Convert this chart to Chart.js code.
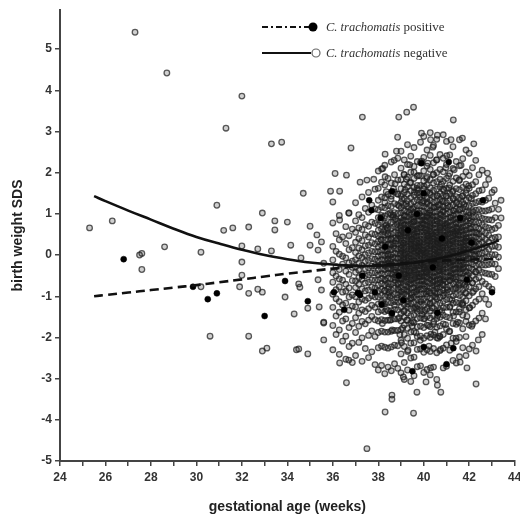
<!DOCTYPE html>
<html>
<head>
<meta charset="utf-8">
<title>Birth weight SDS by gestational age</title>
<script src="https://cdn.jsdelivr.net/npm/chart.js@4.4.1/dist/chart.umd.min.js"></script>
<style>
  html, body { margin: 0; padding: 0; background: #fff; }
  #wrap { width: 520px; height: 521px; }
</style>
</head>
<body>
<div id="wrap"><canvas id="scatter-chart" width="520" height="521"></canvas></div>
<script>
// Fitted curves
const curveWeeks = [25.5, 26, 27, 28, 29, 30, 31, 32, 33, 34, 35, 36, 37, 38, 39, 40, 41, 42, 43, 43.3];
const negativeFit = [1.43, 1.31, 1.08, 0.86, 0.64, 0.44, 0.28, 0.13, 0.0, -0.1, -0.18, -0.23, -0.26, -0.26, -0.22, -0.15, -0.04, 0.11, 0.29, 0.36];
const positiveFit = [-1.0, -0.97, -0.91, -0.85, -0.79, -0.73, -0.66, -0.59, -0.52, -0.45, -0.39, -0.33, -0.28, -0.24, -0.2, -0.16, -0.13, -0.11, -0.1, -0.1];

// C. trachomatis positive (filled dots)
const positiveWeeks = [26.8, 29.85, 30.5, 30.9, 33.0, 33.9, 34.9, 36.05, 36.5, 37.1, 37.2, 37.85, 38.15, 38.6, 39.5, 41.0, 41.3, 40.0, 43.0,
  39.9, 41.1, 38.6, 37.6, 37.7, 42.6, 40.0, 39.3, 40.4, 38.9, 41.6, 39.7, 40.8, 38.3, 41.9, 39.1, 40.6, 42.1, 37.3, 38.1];
const positiveSDS = [-0.1, -0.77, -1.07, -0.93, -1.48, -0.63, -1.12, -0.9, -1.33, -0.92, -0.97, -0.9, -1.2, -1.41, -2.82, -2.65, -2.26, -2.23, -0.9,
  2.23, 2.26, 1.55, 1.33, 1.09, 1.33, 1.5, 0.6, -0.3, -0.5, 0.9, 1.0, 0.4, 0.2, -0.6, -1.1, -1.4, 0.3, -0.5, 0.9];

// C. trachomatis negative, scattered points outside the main cloud
const outlierWeeks = [25.3, 26.3, 27.3, 28.7, 32.0, 31.3, 30.9, 31.2, 31.6, 32.3, 28.6, 27.5, 27.6, 27.6, 30.2, 32.0, 30.6, 32.3,
  31.9, 32.3, 32.0, 32.0, 30.2, 32.9, 34.7, 33.45, 34.0, 33.45, 35.0, 32.7, 33.3, 34.15, 32.7, 32.9, 33.9, 34.3, 32.9, 33.1,
  34.4, 34.9, 35.6, 35.6, 34.5, 33.3, 33.75, 37.3, 38.9, 39.25, 39.55, 41.3, 36.8, 38.3, 38.85, 35.9, 36.3, 36.1, 36.6, 36.0,
  37.2, 37.5, 37.8, 38.2, 38.7, 36.3, 36.7, 37.5, 38.3, 39.55, 38.6, 38.6, 39.7, 40.1, 40.6, 40.75, 42.3, 36.6, 41.9, 41.6,
  42.3, 42.4, 36.3, 36.7, 34.5, 39.1, 40.3, 43.4, 43.4, 43.1, 42.8, 42.2, 41.7, 41.2, 39.9, 40.6, 40.3, 40.4, 35.3, 35.5,
  35.35, 35.6, 35.35, 35.5, 35.4, 35.6, 35.0, 34.6, 34.55, 34.9, 38.8, 38.15, 38.3];
const outlierSDS = [0.66, 0.83, 5.41, 4.42, 3.86, 3.08, 1.21, 0.6, 0.66, 0.68, 0.2, 0.0, 0.04, -0.35, 0.07, 0.22, -1.97, -1.97,
  -0.77, -0.93, -0.49, -0.17, -0.77, 1.02, 1.5, 0.83, 0.8, 0.61, 0.7, 0.15, 0.1, 0.24, -0.83, -0.9, -1.02, -1.43, -2.33, -2.26,
  -2.3, -2.4, -2.06, -1.65, -0.7, 2.7, 2.74, 3.35, 3.35, 3.47, 3.59, 3.28, 2.6, 2.45, 2.86, 1.55, 1.55, 1.98, 1.94, 1.29,
  1.77, 1.82, 1.84, 2.1, 2.3, 0.85, 1.02, -4.7, -3.81, -3.84, -3.4, -3.5, -3.33, -3.08, -3.16, -3.33, -3.13, -3.1, -2.74, -2.6,
  -2.33, -2.06, -2.62, -2.55, -2.28, -2.96, -2.74, 1.33, 0.9, 1.58, 1.99, 2.7, 2.84, 2.8, 2.96, 2.91, 2.8, 2.62, 0.49, 0.32,
  0.12, -0.2, -0.6, -0.85, -1.26, -1.63, 0.24, -0.07, -0.78, -1.29, 2.52, 2.09, 1.9];

// C. trachomatis negative, main cloud: one column per gestational day
const cloudDays = [252, 253, 254, 255, 256, 257, 258, 259, 260, 261, 262, 263, 264, 265, 266, 267, 268, 269, 270, 271, 272,
  273, 274, 275, 276, 277, 278, 279, 280, 281, 282, 283, 284, 285, 286, 287, 288, 289, 290, 291, 292, 293,
  294, 295, 296, 297, 298, 299, 300, 301, 302, 303];
const cloudSDS = [
  [0.78, 0.21, -0.12, -0.43, -0.66, -0.95, -1.27, -1.71, -2.3],
  [0.52, 0.09, -0.28, -0.51, -0.84, -1.06, -1.48, -1.93],
  [0.96, 0.37, 0.02, -0.35, -0.58, -0.77, -1.13, -1.39, -1.82, -2.41],
  [0.44, -0.03, -0.22, -0.61, -0.9, -1.21, -1.6, -2.09],
  [0.69, 0.28, -0.07, -0.39, -0.71, -0.88, -1.17, -1.55, -1.97, -2.53],
  [1.02, 0.47, 0.13, -0.19, -0.47, -0.8, -1.02, -1.34, -1.76, -2.22],
  [0.63, 0.18, -0.15, -0.3, -0.62, -0.97, -1.24, -1.66, -2.14, -2.61],
  [1.27, 0.83, 0.55, 0.31, 0.06, -0.11, -0.29, -0.42, -0.63, -0.79, -1.01, -1.26, -1.52, -1.88, -2.44],
  [0.98, 0.66, 0.4, 0.17, -0.02, -0.2, -0.37, -0.55, -0.71, -0.93, -1.14, -1.41, -1.73, -2.12],
  [1.41, 0.91, 0.62, 0.35, 0.13, -0.06, -0.25, -0.46, -0.59, -0.82, -1.07, -1.33, -1.61, -2.01, -2.58],
  [1.13, 0.74, 0.49, 0.22, 0.01, -0.15, -0.33, -0.5, -0.68, -0.87, -1.1, -1.37, -1.67, -2.27],
  [1.52, 1.04, 0.7, 0.44, 0.24, 0.05, -0.13, -0.31, -0.48, -0.66, -0.85, -1.05, -1.3, -1.58, -1.95, -2.49],
  [1.21, 0.8, 0.52, 0.3, 0.09, -0.09, -0.27, -0.44, -0.61, -0.78, -0.99, -1.22, -1.49, -1.84, -2.35],
  [1.6, 1.12, 0.77, 0.5, 0.27, 0.08, -0.1, -0.26, -0.43, -0.61, -0.8, -1.02, -1.27, -1.57, -1.98, -2.66],
  [2.04, 1.62, 1.33, 1.1, 0.91, 0.74, 0.6, 0.46, 0.33, 0.2, 0.08, -0.03, -0.14, -0.25, -0.37, -0.48, -0.6, -0.73, -0.87, -1.02, -1.19, -1.38, -1.6, -1.88, -2.25, -2.79],
  [1.77, 1.41, 1.16, 0.96, 0.79, 0.63, 0.49, 0.36, 0.24, 0.12, 0.0, -0.11, -0.22, -0.34, -0.45, -0.57, -0.69, -0.83, -0.98, -1.15, -1.34, -1.57, -1.85, -2.21, -2.68],
  [2.18, 1.7, 1.39, 1.15, 0.95, 0.78, 0.63, 0.49, 0.36, 0.23, 0.11, -0.01, -0.12, -0.23, -0.35, -0.47, -0.59, -0.72, -0.86, -1.01, -1.18, -1.37, -1.59, -1.87, -2.24, -2.88],
  [1.86, 1.47, 1.2, 0.99, 0.81, 0.65, 0.51, 0.38, 0.26, 0.14, 0.02, -0.09, -0.2, -0.32, -0.44, -0.56, -0.69, -0.83, -0.98, -1.15, -1.35, -1.58, -1.87, -2.26, -2.72],
  [2.26, 1.75, 1.43, 1.18, 0.98, 0.8, 0.65, 0.51, 0.38, 0.25, 0.13, 0.01, -0.1, -0.21, -0.33, -0.45, -0.57, -0.7, -0.84, -0.99, -1.16, -1.35, -1.57, -1.85, -2.23, -2.81],
  [1.95, 1.53, 1.25, 1.03, 0.85, 0.69, 0.54, 0.41, 0.28, 0.16, 0.04, -0.07, -0.18, -0.3, -0.42, -0.54, -0.67, -0.81, -0.96, -1.13, -1.32, -1.55, -1.83, -2.19, -2.64],
  [2.35, 1.82, 1.48, 1.22, 1.01, 0.83, 0.67, 0.53, 0.4, 0.27, 0.15, 0.03, -0.08, -0.19, -0.31, -0.43, -0.55, -0.68, -0.82, -0.97, -1.14, -1.33, -1.55, -1.83, -2.2, -2.75],
  [2.52, 2.11, 1.83, 1.61, 1.44, 1.28, 1.15, 1.02, 0.9, 0.8, 0.7, 0.6, 0.51, 0.42, 0.33, 0.25, 0.17, 0.09, 0.01, -0.07, -0.15, -0.23, -0.32, -0.4, -0.49, -0.58, -0.68, -0.78, -0.89, -1.0, -1.13, -1.27, -1.42, -1.6, -1.81, -2.07, -2.4, -2.86],
  [2.31, 1.95, 1.72, 1.52, 1.37, 1.21, 1.07, 0.97, 0.85, 0.74, 0.66, 0.55, 0.47, 0.36, 0.29, 0.2, 0.13, 0.04, -0.04, -0.11, -0.2, -0.27, -0.36, -0.45, -0.53, -0.63, -0.72, -0.84, -0.94, -1.07, -1.2, -1.35, -1.51, -1.7, -1.93, -2.22, -2.61, -3.02],
  [2.68, 2.2, 1.89, 1.66, 1.48, 1.32, 1.18, 1.05, 0.93, 0.82, 0.72, 0.63, 0.53, 0.44, 0.35, 0.27, 0.19, 0.1, 0.02, -0.06, -0.14, -0.22, -0.3, -0.39, -0.48, -0.57, -0.66, -0.77, -0.88, -1.0, -1.12, -1.26, -1.41, -1.58, -1.78, -2.02, -2.34, -2.79],
  [2.4, 2.01, 1.76, 1.56, 1.39, 1.24, 1.1, 0.98, 0.87, 0.76, 0.67, 0.57, 0.48, 0.39, 0.31, 0.22, 0.14, 0.06, -0.02, -0.1, -0.18, -0.26, -0.35, -0.43, -0.52, -0.61, -0.71, -0.81, -0.92, -1.04, -1.17, -1.31, -1.47, -1.65, -1.87, -2.14, -2.5, -3.07],
  [2.61, 2.15, 1.86, 1.64, 1.46, 1.3, 1.16, 1.03, 0.92, 0.81, 0.71, 0.61, 0.52, 0.43, 0.34, 0.26, 0.18, 0.1, 0.02, -0.06, -0.14, -0.23, -0.31, -0.4, -0.49, -0.58, -0.68, -0.79, -0.9, -1.02, -1.15, -1.3, -1.46, -1.64, -1.86, -2.13, -2.48, -2.93],
  [2.27, 1.92, 1.69, 1.5, 1.34, 1.2, 1.07, 0.95, 0.84, 0.74, 0.64, 0.55, 0.46, 0.37, 0.29, 0.21, 0.13, 0.05, -0.03, -0.11, -0.19, -0.27, -0.36, -0.45, -0.54, -0.63, -0.73, -0.84, -0.95, -1.08, -1.22, -1.37, -1.54, -1.74, -1.98, -2.29, -2.71],
  [2.74, 2.24, 1.92, 1.69, 1.5, 1.34, 1.2, 1.07, 0.95, 0.84, 0.74, 0.65, 0.56, 0.47, 0.38, 0.3, 0.22, 0.14, 0.06, -0.02, -0.1, -0.18, -0.26, -0.35, -0.44, -0.53, -0.62, -0.72, -0.83, -0.95, -1.07, -1.21, -1.36, -1.53, -1.73, -1.97, -2.28, -2.69],
  [2.88, 2.37, 2.04, 1.8, 1.61, 1.45, 1.31, 1.18, 1.06, 0.95, 0.85, 0.75, 0.66, 0.57, 0.48, 0.4, 0.32, 0.24, 0.16, 0.08, 0.0, -0.08, -0.16, -0.24, -0.33, -0.42, -0.51, -0.61, -0.71, -0.82, -0.94, -1.07, -1.21, -1.37, -1.55, -1.76, -2.02, -2.36, -2.85],
  [2.55, 2.16, 1.9, 1.7, 1.53, 1.38, 1.25, 1.13, 1.02, 0.92, 0.82, 0.72, 0.63, 0.54, 0.46, 0.38, 0.3, 0.22, 0.14, 0.06, -0.02, -0.1, -0.18, -0.27, -0.36, -0.45, -0.55, -0.65, -0.76, -0.88, -1.01, -1.15, -1.31, -1.49, -1.7, -1.96, -2.3, -2.78],
  [2.97, 2.42, 2.08, 1.83, 1.63, 1.47, 1.33, 1.2, 1.08, 0.97, 0.87, 0.77, 0.68, 0.59, 0.5, 0.42, 0.34, 0.26, 0.18, 0.1, 0.02, -0.06, -0.14, -0.22, -0.31, -0.4, -0.49, -0.59, -0.69, -0.8, -0.92, -1.05, -1.19, -1.35, -1.53, -1.74, -2.0, -2.34, -2.91],
  [2.66, 2.24, 1.96, 1.75, 1.57, 1.42, 1.28, 1.16, 1.05, 0.94, 0.84, 0.74, 0.65, 0.56, 0.47, 0.39, 0.31, 0.23, 0.15, 0.07, -0.01, -0.09, -0.17, -0.25, -0.34, -0.43, -0.53, -0.63, -0.74, -0.86, -0.99, -1.13, -1.29, -1.47, -1.68, -1.94, -2.27, -2.72],
  [2.81, 2.31, 2.0, 1.78, 1.6, 1.44, 1.3, 1.17, 1.05, 0.94, 0.84, 0.75, 0.66, 0.57, 0.49, 0.41, 0.33, 0.25, 0.17, 0.09, 0.01, -0.07, -0.15, -0.23, -0.32, -0.41, -0.5, -0.6, -0.7, -0.81, -0.93, -1.06, -1.2, -1.36, -1.54, -1.75, -2.01, -2.37, -3.02],
  [2.44, 2.08, 1.84, 1.65, 1.49, 1.35, 1.22, 1.1, 0.99, 0.89, 0.79, 0.7, 0.61, 0.52, 0.44, 0.36, 0.28, 0.2, 0.12, 0.04, -0.04, -0.12, -0.2, -0.29, -0.38, -0.47, -0.57, -0.67, -0.78, -0.9, -1.03, -1.17, -1.33, -1.51, -1.72, -1.98, -2.32],
  [2.92, 2.35, 2.02, 1.79, 1.6, 1.44, 1.3, 1.17, 1.05, 0.94, 0.84, 0.75, 0.66, 0.57, 0.49, 0.41, 0.33, 0.25, 0.17, 0.09, 0.01, -0.07, -0.15, -0.24, -0.33, -0.42, -0.52, -0.62, -0.73, -0.85, -0.98, -1.12, -1.28, -1.46, -1.67, -1.93, -2.26, -2.74],
  [2.76, 2.2, 1.86, 1.62, 1.43, 1.27, 1.13, 1.0, 0.88, 0.77, 0.67, 0.57, 0.48, 0.39, 0.3, 0.21, 0.12, 0.04, -0.05, -0.14, -0.23, -0.32, -0.42, -0.53, -0.65, -0.78, -0.92, -1.08, -1.27, -1.5, -1.79, -2.18, -2.7],
  [2.43, 1.98, 1.7, 1.49, 1.32, 1.17, 1.04, 0.92, 0.81, 0.71, 0.61, 0.52, 0.43, 0.34, 0.25, 0.16, 0.08, -0.01, -0.1, -0.19, -0.29, -0.39, -0.5, -0.62, -0.75, -0.9, -1.07, -1.27, -1.52, -1.85, -2.31],
  [2.63, 2.1, 1.79, 1.56, 1.38, 1.22, 1.08, 0.96, 0.85, 0.74, 0.64, 0.55, 0.46, 0.37, 0.28, 0.19, 0.1, 0.02, -0.07, -0.16, -0.25, -0.35, -0.45, -0.56, -0.69, -0.83, -0.99, -1.17, -1.39, -1.66, -2.02, -2.56],
  [2.27, 1.87, 1.61, 1.42, 1.26, 1.12, 0.99, 0.88, 0.77, 0.67, 0.58, 0.49, 0.4, 0.31, 0.22, 0.14, 0.05, -0.04, -0.13, -0.22, -0.32, -0.42, -0.53, -0.66, -0.8, -0.96, -1.15, -1.38, -1.68, -2.1, -2.62],
  [2.8, 2.17, 1.83, 1.59, 1.4, 1.24, 1.1, 0.97, 0.86, 0.75, 0.65, 0.56, 0.47, 0.38, 0.29, 0.2, 0.11, 0.03, -0.06, -0.15, -0.24, -0.34, -0.44, -0.56, -0.68, -0.82, -0.98, -1.16, -1.38, -1.65, -2.0, -2.47],
  [2.34, 1.91, 1.64, 1.44, 1.28, 1.13, 1.0, 0.89, 0.78, 0.68, 0.58, 0.49, 0.4, 0.31, 0.23, 0.14, 0.05, -0.04, -0.13, -0.23, -0.33, -0.44, -0.56, -0.69, -0.84, -1.01, -1.21, -1.46, -1.79, -2.25],
  [2.55, 2.02, 1.72, 1.5, 1.33, 1.18, 1.05, 0.93, 0.82, 0.71, 0.61, 0.52, 0.43, 0.34, 0.25, 0.16, 0.07, -0.02, -0.11, -0.2, -0.3, -0.4, -0.51, -0.63, -0.77, -0.93, -1.11, -1.33, -1.61, -1.98, -2.44],
  [2.47, 1.93, 1.62, 1.39, 1.2, 1.04, 0.9, 0.77, 0.65, 0.54, 0.43, 0.33, 0.23, 0.13, 0.03, -0.08, -0.19, -0.31, -0.44, -0.59, -0.77, -0.99, -1.28, -1.7, -2.28],
  [2.12, 1.71, 1.45, 1.25, 1.08, 0.93, 0.8, 0.67, 0.55, 0.44, 0.33, 0.22, 0.12, 0.01, -0.1, -0.22, -0.35, -0.5, -0.68, -0.91, -1.22, -1.68, -2.19],
  [2.3, 1.78, 1.49, 1.27, 1.09, 0.94, 0.8, 0.67, 0.55, 0.43, 0.32, 0.21, 0.1, -0.01, -0.13, -0.26, -0.41, -0.59, -0.82, -1.13, -1.6],
  [1.95, 1.56, 1.3, 1.1, 0.93, 0.78, 0.64, 0.51, 0.39, 0.27, 0.15, 0.03, -0.09, -0.22, -0.37, -0.55, -0.77, -1.07, -1.53],
  [2.06, 1.58, 1.29, 1.07, 0.89, 0.73, 0.58, 0.44, 0.31, 0.18, 0.05, -0.09, -0.24, -0.42, -0.64, -0.94, -1.41, -1.93],
  [1.71, 1.33, 1.07, 0.87, 0.69, 0.53, 0.38, 0.23, 0.08, -0.07, -0.24, -0.44, -0.7, -1.07, -1.55],
  [1.84, 1.38, 1.09, 0.86, 0.66, 0.48, 0.31, 0.14, -0.04, -0.23, -0.46, -0.76, -1.2],
  [1.52, 1.12, 0.85, 0.62, 0.41, 0.21, 0.01, -0.21, -0.47, -0.83],
  [1.26, 0.91, 0.65, 0.43, 0.22, 0.01, -0.22, -0.52],
  [1.11, 0.72, 0.44, 0.19, -0.05, -0.33]
];

// C. trachomatis negative, dense core of the cloud as [weeks, SDS]
const cloudCore = [
  [39.43,0.27],[40.12,-0.41],[38.76,0.88],[41.05,0.52],[39.87,-1.13],[40.64,1.21],[38.31,-0.62],[39.18,0.04],[41.58,-0.27],[40.29,0.71],
  [39.62,-0.55],[38.94,-0.18],[40.87,-0.93],[41.33,1.07],[39.05,1.36],[40.48,0.13],[38.57,0.41],[41.79,0.19],[39.71,0.58],[40.05,-0.07],
  [38.82,-1.04],[40.93,0.36],[39.27,-0.84],[41.16,-0.61],[40.36,-1.28],[39.94,0.92],[38.45,-0.33],[41.47,0.63],[40.71,-0.22],[39.53,1.12],
  [38.68,0.21],[40.19,0.47],[41.92,-0.48],[39.36,-0.39],[40.58,0.82],[38.99,0.66],[41.24,-1.09],[39.81,0.31],[40.41,-0.66],[38.23,0.57],
  [39.12,-1.37],[40.99,1.44],[41.63,0.07],[39.58,-0.14],[40.26,1.03],[38.87,-0.71],[41.08,-0.01],[39.76,-0.79],[40.67,-0.38],[38.52,1.02],
  [39.97,0.12],[41.39,-0.82],[40.08,0.61],[39.31,0.74],[40.83,0.18],[38.71,-1.21],[41.71,0.87],[39.67,0.46],[40.52,-1.02],[38.96,0.03],
  [40.33,-0.17],[39.46,-0.97],[41.27,0.34],[40.76,0.97],[39.09,0.29],[38.62,-0.47],[41.54,-0.73],[39.89,-0.46],[40.15,1.29],[38.38,0.11],
  [40.61,-1.47],[39.22,0.53],[41.11,1.63],[39.74,1.58],[40.44,0.39],[38.91,1.19],[41.36,-0.34],[39.51,-1.62],[40.02,-0.31],[38.79,0.35],
  [40.89,-0.59],[39.39,1.75],[41.68,-1.18],[40.22,-0.88],[39.84,0.02],[38.48,-0.91],[41.02,0.73],[39.16,-0.27],[40.55,0.55],[38.65,-0.05],
  [40.07,0.84],[39.64,0.19],[41.21,-0.44],[40.79,-1.37],[39.03,-0.58],[38.34,0.72],[41.86,0.41],[39.92,-0.63],[40.31,0.23],[38.85,1.48],
  [40.68,0.08],[39.29,-1.19],[41.45,1.28],[40.11,-0.94],[39.56,0.81],[38.59,-1.43],[40.95,-0.16],[39.79,1.01],[40.43,-0.53],[38.77,-0.29],
  [41.13,0.26],[39.48,0.38],[40.04,-1.54],[40.73,0.67],[39.15,0.94],[38.41,-0.12],[41.59,1.12],[39.95,1.27],[40.37,-0.09],[38.93,-0.42],
  [40.57,-0.76],[39.33,-0.07],[41.29,-0.14],[40.17,0.35],[39.72,-1.31],[38.64,0.93],[41.74,-0.29],[39.86,0.68],[40.91,0.47],[39.01,0.16],
  [40.28,-1.16],[39.59,1.53],[41.04,-0.84],[40.62,0.28],[39.23,1.24],[38.53,0.27],[41.51,0.48],[39.98,-0.28],[40.46,1.16],[38.89,-0.84],
  [40.85,-0.37],[39.41,-0.69],[41.19,0.91],[40.09,0.06],[39.68,-0.23],[38.36,-1.32],[41.83,-0.92],[39.83,1.41],[40.54,-0.24],[39.07,-1.77],
  [40.14,-0.52],[39.52,0.62],[41.31,-1.48],[40.81,1.31],[39.19,-0.46],[38.73,-0.61],[41.62,0.29],[39.93,-1.44],[40.39,0.91],[38.97,0.47],
  [40.66,-0.04],[39.37,1.03],[41.09,1.92],[40.24,-0.33],[39.75,0.09],[38.56,1.36],[41.43,-0.59],[40.01,1.67],[40.49,-1.87],[39.11,-0.12],
  [40.94,0.71],[39.61,-0.37],[41.24,0.09],[40.34,0.52],[39.26,-1.58],[38.83,0.74],[41.77,1.23],[39.88,-0.19],[40.59,0.33],[38.46,-0.77],
  [40.03,-0.76],[39.45,0.13],[41.38,0.52],[40.72,-0.61],[39.06,0.84],[38.67,1.61],[41.57,-1.31],[39.78,0.22],[40.21,-1.71],[38.92,-1.52],
  [40.86,1.08],[39.34,-0.22],[41.17,-0.23],[40.13,1.86],[39.69,-0.88],[38.58,-0.24],[41.66,0.61],[39.96,0.77],[40.47,0.01],[39.14,0.63],
  [38.18,-1.66],[42.05,0.83],[39.57,2.01],[40.63,-2.02],[41.88,1.58],[38.29,1.27],[42.14,-0.67],[39.02,-2.13],[40.97,2.12],[41.49,-1.63],
  [38.43,-0.03],[42.21,0.26],[39.24,1.84],[40.32,-1.92],[41.72,-1.17],[38.11,0.38],[42.09,1.37],[39.85,-2.07],[40.78,1.72],[41.26,1.54],
  [38.61,-1.82],[42.28,-0.41],[39.49,-1.72],[40.18,2.23],[41.56,1.81],[38.27,-0.87],[41.95,-0.09],[39.13,1.96],[40.96,-1.69],[41.12,-1.86],
  [38.74,1.73],[42.16,1.04],[39.66,-1.89],[40.42,1.95],[41.81,-0.71],[38.16,0.92],[42.02,-1.28],[39.38,2.19],[40.69,-1.97],[41.34,2.07],
  [38.95,-1.93],[42.33,0.53],[39.78,1.93],[40.23,-2.21],[41.64,2.18],[38.35,1.54],[42.11,-1.73],[39.04,-0.96],[40.88,1.58],[41.21,-2.14],
  [38.51,-1.58],[41.98,1.68],[39.31,-2.31],[40.56,2.31],[41.42,-2.02],[38.22,-1.18],[42.24,0.02],[39.91,2.28],[40.74,-2.29],[41.01,2.41],
  [38.81,-0.49],[41.9,-1.49],[39.18,1.58],[40.44,-1.61],[41.69,1.43],[38.39,0.66],[42.06,0.64],[39.63,-1.28],[40.27,1.51],[41.15,-1.25],
  [38.66,0.97],[41.84,0.34],[39.43,-1.06],[40.06,-1.34],[41.3,1.36],[38.5,-1.01],[42.19,-0.88],[39.7,1.62],[40.5,-0.91],[41.06,1.2],
  [38.88,0.49],[41.6,-0.42],[39.28,-0.52],[40.16,0.96],[41.41,0.79],[38.3,-0.26],[41.97,0.96],[39.55,0.87],[40.84,-0.71],[41.25,0.6],
  [38.72,-0.36],[41.76,0.12],[39.36,0.47],[40.3,-0.12],[41.53,-0.08],[38.44,0.48],[42.13,0.36],[39.8,-0.52],[40.6,1.44],[41.18,-0.53]
];

const legendSpecies = 'C. trachomatis';
const legendLabels = ['positive', 'negative'];

const axisFont = 'Liberation Sans, Arial, Helvetica, sans-serif';
const toPoints = (xs, ys) => xs.map((x, i) => ({ x: x, y: ys[i] }));
const cloudPoints = cloudDays.flatMap((d, i) => cloudSDS[i].map(v => ({ x: d / 7, y: v })));
const corePoints = cloudCore.map(p => ({ x: p[0], y: p[1] }));
const negativePoints = toPoints(outlierWeeks, outlierSDS).concat(cloudPoints, corePoints);

// Legend drawn by hand: line sample, marker, italic species name
const trachLegend = {
    id: 'trachLegend',
    afterDraw(chart) {
        const ctx = chart.ctx;
        const rows = [
            { y: 27, dash: [6, 3, 2, 3], filled: true },
            { y: 53, dash: [], filled: false }
        ];
        ctx.save();
        rows.forEach((row, i) => {
            ctx.beginPath();
            ctx.setLineDash(row.dash);
            ctx.lineWidth = 2;
            ctx.strokeStyle = '#111';
            ctx.moveTo(262, row.y);
            ctx.lineTo(row.filled ? 309 : 311, row.y);
            ctx.stroke();
            ctx.setLineDash([]);
            ctx.beginPath();
            if (row.filled) {
                ctx.arc(313, row.y, 4.5, 0, Math.PI * 2);
                ctx.fillStyle = '#000';
                ctx.fill();
            } else {
                ctx.arc(316, row.y, 4, 0, Math.PI * 2);
                ctx.fillStyle = '#fff';
                ctx.fill();
                ctx.lineWidth = 1.2;
                ctx.strokeStyle = '#666';
                ctx.stroke();
            }
            ctx.fillStyle = '#333';
            ctx.textBaseline = 'middle';
            ctx.textAlign = 'left';
            ctx.font = 'italic 12.5px "Liberation Serif", "Times New Roman", serif';
            ctx.fillText(legendSpecies, 326, row.y + 1);
            const w = ctx.measureText(legendSpecies + ' ').width;
            ctx.font = '13px "Liberation Serif", "Times New Roman", serif';
            ctx.fillText(legendLabels[i], 326 + w, row.y + 1);
        });
        ctx.restore();
    }
};

new Chart(document.getElementById('scatter-chart'), {
    type: 'scatter',
    data: {
        datasets: [
            {
                label: 'negative fit',
                data: toPoints(curveWeeks, negativeFit),
                showLine: true,
                borderColor: '#111',
                borderWidth: 2.6,
                pointRadius: 0,
                tension: 0.4,
                order: 0
            },
            {
                label: 'positive fit',
                data: toPoints(curveWeeks, positiveFit),
                showLine: true,
                borderColor: '#111',
                borderWidth: 2.6,
                borderDash: [9, 5],
                pointRadius: 0,
                tension: 0.4,
                order: 0
            },
            {
                label: 'C. trachomatis positive',
                data: toPoints(positiveWeeks, positiveSDS),
                pointRadius: 3,
                pointBackgroundColor: '#000',
                pointBorderColor: '#000',
                pointBorderWidth: 0.5,
                order: 1
            },
            {
                label: 'C. trachomatis negative',
                data: negativePoints,
                pointRadius: 2.8,
                pointBackgroundColor: 'rgba(20,20,20,0.2)',
                pointBorderColor: 'rgba(30,30,30,0.72)',
                pointBorderWidth: 1.3,
                order: 2
            }
        ]
    },
    options: {
        responsive: false,
        animation: false,
        devicePixelRatio: 1,
        layout: { padding: { top: 10, right: 5, left: 0, bottom: 0 } },
        plugins: {
            legend: { display: false },
            tooltip: { enabled: false }
        },
        scales: {
            x: {
                type: 'linear',
                min: 24,
                max: 44,
                ticks: {
                    stepSize: 1,
                    autoSkip: false,
                    maxRotation: 0,
                    padding: 4,
                    color: '#333',
                    font: { family: axisFont, weight: 'bold', size: 12 },
                    callback: v => (v % 2 === 0 ? v : '')
                },
                grid: { drawOnChartArea: false, drawTicks: true, tickLength: 5, color: '#444', lineWidth: 1.5 },
                border: { display: true, color: '#444', width: 2 },
                title: {
                    display: true,
                    text: 'gestational age (weeks)',
                    color: '#222',
                    font: { family: axisFont, weight: 'bold', size: 14 },
                    padding: { top: 0, bottom: 5 }
                },
                afterFit: s => { s.height = 60; s.paddingLeft = 0; s.paddingRight = 0; }
            },
            y: {
                type: 'linear',
                min: -5,
                max: 5.95,
                ticks: {
                    stepSize: 1,
                    padding: 3,
                    color: '#333',
                    font: { family: axisFont, weight: 'bold', size: 12 }
                },
                afterBuildTicks: s => { s.ticks = s.ticks.filter(t => Number.isInteger(t.value)); },
                grid: { drawOnChartArea: false, drawTicks: true, tickLength: 5, color: '#444', lineWidth: 1.5 },
                border: { display: true, color: '#444', width: 2 },
                title: {
                    display: true,
                    text: 'birth weight SDS',
                    color: '#222',
                    font: { family: axisFont, weight: 'bold', size: 14 },
                    padding: { top: 10, bottom: 0 }
                },
                afterFit: s => { s.width = 60; s.paddingTop = 0; s.paddingBottom = 0; }
            }
        }
    },
    plugins: [trachLegend]
});
</script>
</body>
</html>
